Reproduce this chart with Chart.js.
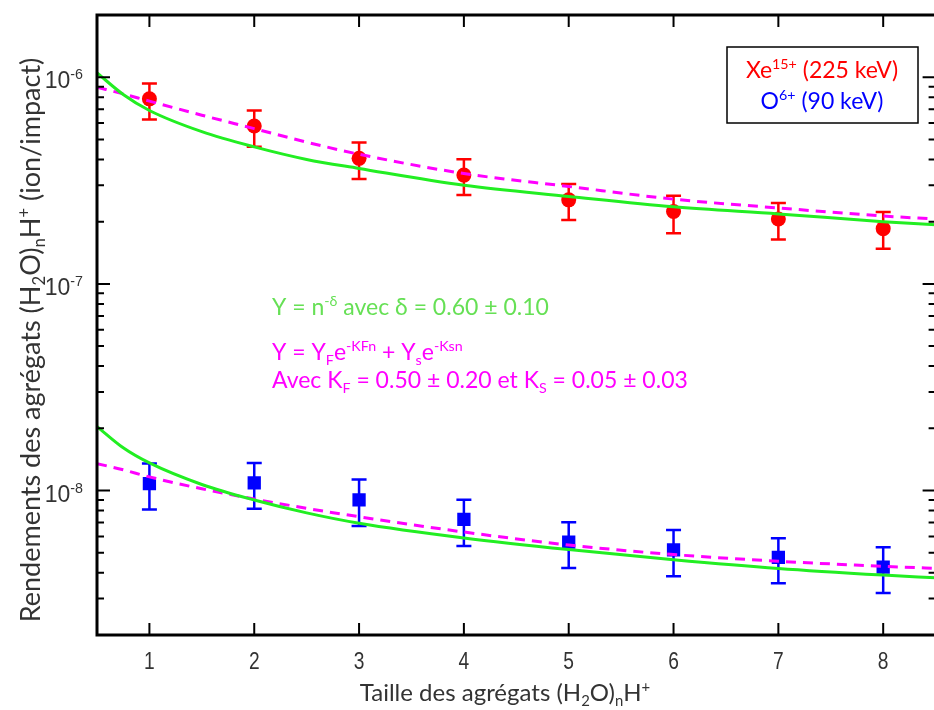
<!DOCTYPE html>
<html>
<head>
<meta charset="utf-8">
<script src="https://cdn.jsdelivr.net/npm/chart.js@4.4.1/dist/chart.umd.min.js"></script>
<style>
  html, body { margin: 0; padding: 0; background: #fff; overflow: hidden; }
  #wrap { width: 945px; height: 710px; }
</style>
</head>
<body>
<div id="wrap"><canvas id="myChart" width="945" height="710"></canvas></div>
<script>
// cluster size n
const sizes = [1, 2, 3, 4, 5, 6, 7, 8];

// Xe15+ (225 keV) yields and error bar ends
const xeYield = [7.86e-7, 5.81e-7, 4.05e-7, 3.36e-7, 2.55e-7, 2.24e-7, 2.06e-7, 1.85e-7];
const xeLow   = [6.25e-7, 4.61e-7, 3.22e-7, 2.69e-7, 2.04e-7, 1.76e-7, 1.64e-7, 1.48e-7];
const xeHigh  = [9.32e-7, 6.91e-7, 4.83e-7, 4.01e-7, 3.04e-7, 2.67e-7, 2.46e-7, 2.23e-7];

// O6+ (90 keV) yields and error bar ends
const oYield = [1.08e-8, 1.09e-8, 9.02e-9, 7.25e-9, 5.63e-9, 5.16e-9, 4.75e-9, 4.26e-9];
const oLow   = [8.10e-9, 8.16e-9, 6.73e-9, 5.39e-9, 4.22e-9, 3.85e-9, 3.56e-9, 3.19e-9];
const oHigh  = [1.35e-8, 1.36e-8, 1.13e-8, 9.02e-9, 7.03e-9, 6.44e-9, 5.87e-9, 5.31e-9];

// fit curves
const fitN = [0.5, 0.75, 1, 1.5, 2, 2.5, 3, 4, 5, 6, 7, 8, 8.5];
const xePowerFit = [1.05e-6, 8.25e-7, 6.9e-7, 5.45e-7, 4.6e-7, 4.0e-7, 3.62e-7, 3.0e-7, 2.65e-7, 2.36e-7, 2.18e-7, 2.0e-7, 1.93e-7];
const xeExpFit   = [8.95e-7, 8.3e-7, 7.66e-7, 6.55e-7, 5.64e-7, 4.85e-7, 4.24e-7, 3.42e-7, 2.96e-7, 2.57e-7, 2.33e-7, 2.13e-7, 2.06e-7];
const oPowerFit  = [2.04e-8, 1.61e-8, 1.36e-8, 1.07e-8, 9.0e-9, 7.8e-9, 6.95e-9, 5.9e-9, 5.18e-9, 4.63e-9, 4.2e-9, 3.9e-9, 3.78e-9];
const oExpFit    = [1.35e-8, 1.26e-8, 1.164e-8, 1.02e-8, 9.1e-9, 8.2e-9, 7.47e-9, 6.3e-9, 5.45e-9, 4.9e-9, 4.55e-9, 4.3e-9, 4.2e-9];

const yMajor = [1e-8, 1e-7, 1e-6];
const yMajorExp = ['-8', '-7', '-6'];

const GREEN = '#22ee22';
const MAGENTA = '#ff00ff';
const TEXT = '#333333';
const TITLE_FONT = 'Lato, "Open Sans", sans-serif';
const TICK_FONT = '"Liberation Sans", Arial, sans-serif';

const toPts = (xs, ys) => xs.map((x, i) => ({ x: x, y: ys[i] }));

// text with sub/superscripts: parts = [[text, ''|'sup'|'sub'], ...]
const richWidth = (ctx, parts, size, family) => {
    let w = 0;
    parts.forEach(([t, m]) => {
        ctx.font = (m ? size * 0.62 : size) + 'px ' + family;
        w += ctx.measureText(t).width;
    });
    return w;
};

const drawRich = (ctx, parts, x, y, size, family, color, align) => {
    const w = richWidth(ctx, parts, size, family);
    let cx = x;
    if (align === 'center') cx = x - w / 2;
    if (align === 'right') cx = x - w;
    ctx.fillStyle = color;
    ctx.textAlign = 'left';
    ctx.textBaseline = 'alphabetic';
    parts.forEach(([t, m]) => {
        ctx.font = (m ? size * 0.62 : size) + 'px ' + family;
        let dy = 0;
        if (m === 'sup') dy = -size * 0.38;
        if (m === 'sub') dy = size * 0.2;
        ctx.fillText(t, cx, y + dy);
        cx += ctx.measureText(t).width;
    });
};

const errorBars = {
    id: 'errorBars',
    beforeDatasetsDraw(chart) {
        const { ctx, scales: { x, y } } = chart;
        const sets = [
            { low: xeLow, high: xeHigh, color: '#ff0000' },
            { low: oLow, high: oHigh, color: '#0000ff' }
        ];
        ctx.save();
        sets.forEach(s => {
            ctx.strokeStyle = s.color;
            ctx.lineWidth = 2.5;
            sizes.forEach((n, i) => {
                const px = x.getPixelForValue(n);
                const y1 = y.getPixelForValue(s.low[i]);
                const y2 = y.getPixelForValue(s.high[i]);
                ctx.beginPath();
                ctx.moveTo(px, y1); ctx.lineTo(px, y2);
                ctx.moveTo(px - 7.5, y1); ctx.lineTo(px + 7.5, y1);
                ctx.moveTo(px - 7.5, y2); ctx.lineTo(px + 7.5, y2);
                ctx.stroke();
            });
        });
        ctx.restore();
    }
};

const frameAndText = {
    id: 'frameAndText',
    afterDraw(chart) {
        const { ctx, chartArea: a, scales: { x, y } } = chart;
        ctx.save();

        // ticks (inward)
        ctx.strokeStyle = '#000';
        ctx.lineWidth = 2;
        ctx.beginPath();
        sizes.forEach(n => {
            const px = x.getPixelForValue(n);
            ctx.moveTo(px, a.bottom); ctx.lineTo(px, a.bottom - 12);
            ctx.moveTo(px, a.top); ctx.lineTo(px, a.top + 12);
        });
        for (let e = -9; e <= -6; e++) {
            for (let m = 1; m <= 9; m++) {
                const v = m * Math.pow(10, e);
                if (v < y.min * 0.999 || v > y.max * 1.001) continue;
                const py = y.getPixelForValue(v);
                const len = m === 1 ? 13 : 7;
                ctx.moveTo(a.left, py); ctx.lineTo(a.left + len, py);
                ctx.moveTo(a.right, py); ctx.lineTo(a.right - len, py);
            }
        }
        ctx.stroke();

        // frame
        ctx.lineWidth = 3;
        ctx.strokeRect(a.left, a.top, a.right - a.left, a.bottom - a.top);

        // x tick labels, narrow digits
        ctx.fillStyle = TEXT;
        ctx.font = '24px ' + TICK_FONT;
        ctx.textAlign = 'center';
        ctx.textBaseline = 'middle';
        sizes.forEach(n => {
            ctx.save();
            ctx.translate(x.getPixelForValue(n), 662);
            ctx.scale(0.8, 1);
            ctx.fillText(String(n), 0, 0);
            ctx.restore();
        });

        // y tick labels 10^k
        yMajor.forEach((v, i) => {
            const py = y.getPixelForValue(v);
            drawRich(ctx, [['10', ''], [yMajorExp[i], 'sup']], 83, py + 11, 23, TICK_FONT, TEXT, 'right');
        });

        // axis titles
        drawRich(ctx, [['Taille des agrégats (H', ''], ['2', 'sub'], ['O)', ''], ['n', 'sub'], ['H', ''], ['+', 'sup']],
            505, 701, 24, TITLE_FONT, TEXT, 'center');
        ctx.save();
        ctx.translate(40, 340);
        ctx.rotate(-Math.PI / 2);
        drawRich(ctx, [['Rendements des agrégats (H', ''], ['2', 'sub'], ['O)', ''], ['n', 'sub'], ['H', ''], ['+', 'sup'], [' (ion/impact)', '']],
            0, 0, 27, TITLE_FONT, TEXT, 'center');
        ctx.restore();

        // legend box
        ctx.fillStyle = '#fff';
        ctx.fillRect(727, 47, 191, 76);
        ctx.lineWidth = 1.5;
        ctx.strokeStyle = '#000';
        ctx.strokeRect(727, 47, 191, 76);
        drawRich(ctx, [['Xe', ''], ['15+', 'sup'], [' (225 keV)', '']], 822, 78, 23, TITLE_FONT, '#ff0000', 'center');
        drawRich(ctx, [['O', ''], ['6+', 'sup'], [' (90 keV)', '']], 822, 109, 23, TITLE_FONT, '#0000ff', 'center');

        // fit annotations
        drawRich(ctx, [['Y = n', ''], ['-δ', 'sup'], [' avec δ = 0.60 ± 0.10', '']], 272, 315, 23, TITLE_FONT, '#66e055', 'left');
        drawRich(ctx, [['Y = Y', ''], ['F', 'sub'], ['e', ''], ['-KFn', 'sup'], [' + Y', ''], ['s', 'sub'], ['e', ''], ['-Ksn', 'sup']],
            272, 360, 23, TITLE_FONT, MAGENTA, 'left');
        drawRich(ctx, [['Avec K', ''], ['F', 'sub'], [' = 0.50 ± 0.20 et K', ''], ['S', 'sub'], [' = 0.05 ± 0.03', '']],
            272, 388, 23, TITLE_FONT, MAGENTA, 'left');

        ctx.restore();
    }
};

const ctx = document.getElementById('myChart').getContext('2d');
const myChart = new Chart(ctx, {
    type: 'scatter',
    data: {
        datasets: [
            {
                label: 'Xe power fit',
                data: toPts(fitN, xePowerFit),
                showLine: true,
                borderColor: GREEN,
                borderWidth: 3,
                pointRadius: 0,
                cubicInterpolationMode: 'monotone'
            },
            {
                label: 'Xe exp fit',
                data: toPts(fitN, xeExpFit),
                showLine: true,
                borderColor: MAGENTA,
                borderWidth: 3,
                borderDash: [10, 7],
                pointRadius: 0,
                cubicInterpolationMode: 'monotone'
            },
            {
                label: 'O power fit',
                data: toPts(fitN, oPowerFit),
                showLine: true,
                borderColor: GREEN,
                borderWidth: 3,
                pointRadius: 0,
                cubicInterpolationMode: 'monotone'
            },
            {
                label: 'O exp fit',
                data: toPts(fitN, oExpFit),
                showLine: true,
                borderColor: MAGENTA,
                borderWidth: 3,
                borderDash: [10, 7],
                pointRadius: 0,
                cubicInterpolationMode: 'monotone'
            },
            {
                label: 'Xe15+ (225 keV)',
                data: toPts(sizes, xeYield),
                pointStyle: 'circle',
                pointRadius: 7.5,
                backgroundColor: '#ff0000',
                borderColor: '#ff0000',
                borderWidth: 0
            },
            {
                label: 'O6+ (90 keV)',
                data: toPts(sizes, oYield),
                pointStyle: 'rect',
                pointRadius: 9.4,
                backgroundColor: '#0000ff',
                borderColor: '#0000ff',
                borderWidth: 0
            }
        ]
    },
    options: {
        responsive: false,
        animation: false,
        devicePixelRatio: 1,
        layout: { padding: { left: 97, top: 15, right: 3, bottom: 75 } },
        plugins: {
            legend: { display: false },
            tooltip: { enabled: false }
        },
        scales: {
            x: { type: 'linear', min: 0.5, max: 8.5, display: false },
            y: { type: 'logarithmic', min: 2e-9, max: 2e-6, bounds: 'data', display: false }
        }
    },
    plugins: [errorBars, frameAndText]
});
</script>
</body>
</html>
